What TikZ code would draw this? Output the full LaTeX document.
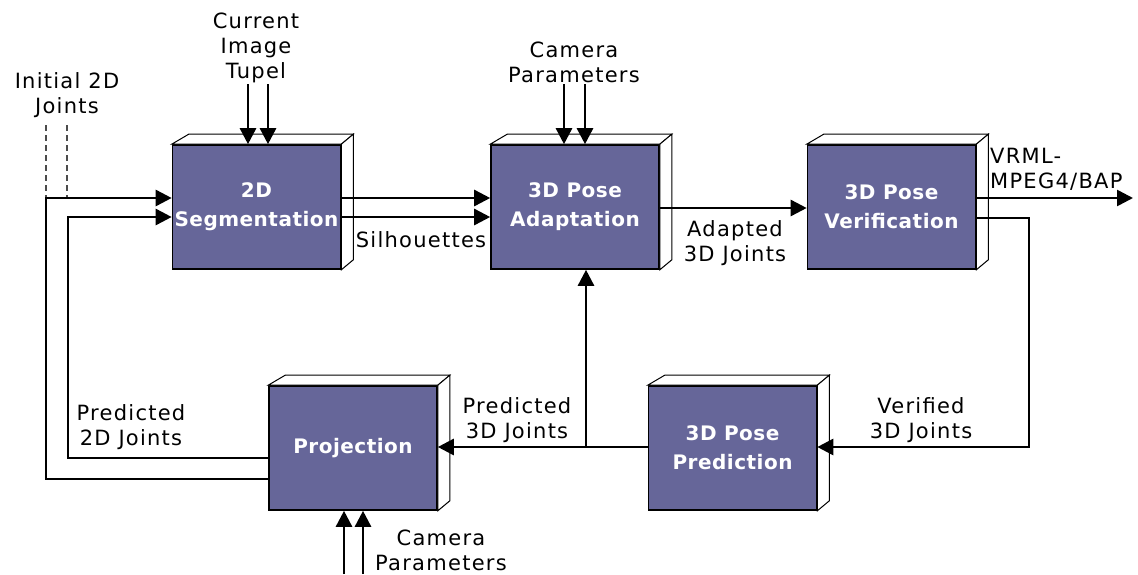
\documentclass[tikz,border=0pt]{standalone}
\usepackage{fontspec}
\setmainfont{DejaVu Sans}[LetterSpace=6]
\newfontfamily\boxfont{DejaVu Sans}[LetterSpace=2.5]
\usetikzlibrary{arrows.meta}
\definecolor{boxblue}{HTML}{666699}
\tikzset{
  blk/.style={fill=boxblue, draw=black, line width=1.6pt,
    minimum width=168pt, minimum height=124pt, inner sep=0pt,
    text=white, align=center,
    font=\boxfont\bfseries\fontsize{20}{29}\selectfont},
  facet/.style={fill=white, draw=black, line width=1pt, line join=miter},
  lbl/.style={inner sep=0pt, align=center, font=\fontsize{21}{25}\selectfont},
  flow/.style={line width=2.6pt, line join=miter},
  arr/.style={flow, -{Triangle[length=16pt,width=16pt]}},
  hint/.style={line width=1.2pt, draw=black!70, dash pattern=on 6pt off 4pt}
}
% white top and side faces that give each block its depth
\newcommand\boxdepth[1]{%
  \draw[facet] (#1.north west) -- ++(17,-10)
     -- ([shift={(12pt,10pt)}]#1.north east) -- (#1.north east) -- cycle;
  \draw[facet] (#1.north east) -- ++(12,-10)
     -- ([shift={(12pt,10pt)}]#1.south east) -- (#1.south east) -- cycle;
}
\begin{document}
\begin{tikzpicture}[x=1pt,y=-1pt]
\useasboundingbox (0,0) rectangle (1138,574);

% processing blocks
\node[blk] (seg)   at (256.5,207) {2D\\Segmentation};
\node[blk] (adapt) at (575,207)   {3D Pose\\Adaptation};
\node[blk] (verif) at (891.5,207) {3D Pose\\Verification};
\node[blk] (proj)  at (353,448)   {Projection};
\node[blk] (pred)  at (732.5,448) {3D Pose\\Prediction};
\foreach \b in {seg,adapt,verif,proj,pred}{\boxdepth{\b}}

% text labels
\node[lbl] (tInit)  at (67,95)    {Initial 2D\\Joints};
\node[lbl] (tImg)   at (256,48)   {Current\\Image\\Tupel};
\node[lbl] (tCamA)  at (574,62)   {Camera\\Parameters};
\node[lbl] (tSil)   at (421,240)  {Silhouettes};
\node[lbl] (tAdp)   at (735,243)  {Adapted\\3D Joints};
\node[lbl, anchor=west, align=left] (tOut) at (990,169) {VRML-\\MPEG4/BAP};
\node[lbl] (tP3)    at (517,420)  {Predicted\\3D Joints};
\node[lbl] (tVer)   at (921,420)  {Verified\\3D Joints};
\node[lbl] (tP2)    at (131,427)  {Predicted\\2D Joints};
\node[lbl] (tCamB)  at (441,550)  {Camera\\Parameters};

% free ends and bends
\coordinate (iA) at (46,125);
\coordinate (iB) at (67,125);
\coordinate (imgA) at (248,84);
\coordinate (imgB) at (268,84);
\coordinate (camA) at (564,84);
\coordinate (camB) at (585,84);
\coordinate (camC) at (344,574);
\coordinate (camD) at (363,574);
\coordinate (outEnd) at (1133,198);
\coordinate (jn) at (586,447);

% initial joints (dashed)
\draw[hint] (iA) -- (46,198);
\draw[hint] (iB) -- (67,198);

% image tupel and camera inputs
\draw[arr] (imgA) -- (imgA |- seg.north);
\draw[arr] (imgB) -- (imgB |- seg.north);
\draw[arr] (camA) -- (camA |- adapt.north);
\draw[arr] (camB) -- (camB |- adapt.north);
\draw[arr] (camC) -- (camC |- proj.south);
\draw[arr] (camD) -- (camD |- proj.south);

% segmentation to adaptation (silhouettes)
\draw[arr] (seg.east |- 0,198) -- (adapt.west |- 0,198);
\draw[arr] (seg.east |- 0,217) -- (adapt.west |- 0,217);

% adaptation to verification
\draw[arr] (adapt.east |- 0,208) -- (verif.west |- 0,208);

% verification outputs
\draw[arr] (verif.east |- 0,198) -- (outEnd);
\draw[arr] (verif.east |- 0,218) -- (1029,218) -- (1029,447) -- (pred.east |- 0,447);

% prediction to projection and back to adaptation
\draw[arr] (pred.west |- 0,447) -- (proj.east |- 0,447);
\draw[arr] (jn) -- (jn |- adapt.south);

% projected 2D joints back to segmentation
\draw[arr] (proj.west |- 0,479) -- (46,479) -- (46,198) -- (seg.west |- 0,198);
\draw[arr] (proj.west |- 0,458) -- (68,458) -- (68,217) -- (seg.west |- 0,217);
\end{tikzpicture}
\end{document}
